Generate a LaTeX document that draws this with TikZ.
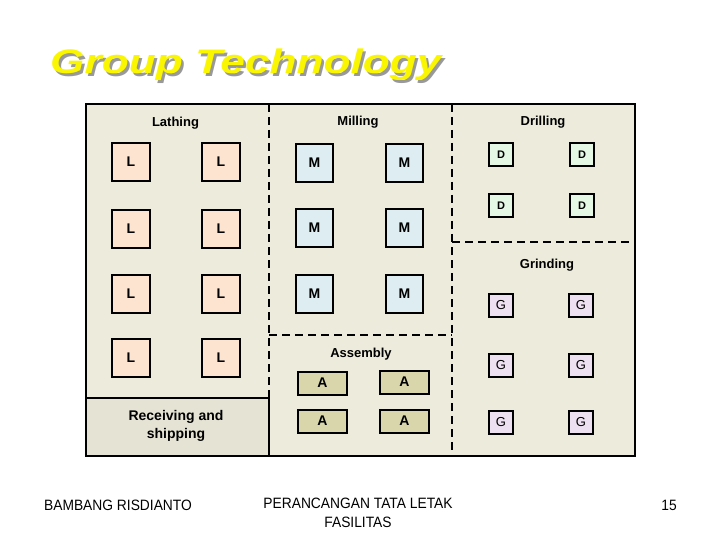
\documentclass[tikz,border=0pt]{standalone}
\usepackage{fontspec}
\setmainfont{Liberation Sans}
\newfontfamily\titlefont[FakeStretch=1.3]{Liberation Sans}
\newfontfamily\footfont[FakeStretch=0.92]{Liberation Sans}
\usetikzlibrary{positioning}
\definecolor{gtback}{RGB}{236,235,220}
\definecolor{gtrecv}{RGB}{228,227,212}
\definecolor{gtpeach}{RGB}{252,228,208}
\definecolor{gtblue}{RGB}{221,237,241}
\definecolor{gtgreen}{RGB}{229,248,229}
\definecolor{gtlilac}{RGB}{237,224,241}
\definecolor{gtkhaki}{RGB}{216,214,170}
\definecolor{gtyellow}{RGB}{250,245,0}

\begin{document}
\begin{tikzpicture}[x=1pt, y=-1pt,
  machine/.style={draw, line width=2pt, inner sep=0pt, font=\fontsize{14}{16}\selectfont\bfseries},
  lathe/.style={machine, fill=gtpeach, minimum width=38pt, minimum height=38pt},
  mill/.style={machine, fill=gtblue, minimum width=37pt, minimum height=38pt},
  drill/.style={machine, fill=gtgreen, minimum width=24pt, minimum height=23pt, font=\fontsize{11}{13}\selectfont\bfseries},
  grind/.style={machine, fill=gtlilac, minimum width=24pt, minimum height=23pt, font=\fontsize{13}{15}\selectfont},
  assy/.style={machine, fill=gtkhaki, minimum width=49pt, minimum height=23pt},
  area/.style={font=\fontsize{13}{15}\selectfont\bfseries},
  border/.style={line width=2.2pt, dash pattern=on 8pt off 5pt},
  footer/.style={font=\footfont\fontsize{15}{19}\selectfont, align=center}]
\useasboundingbox (0,0) rectangle (720,540);
% Title
\node[anchor=base west, inner sep=0pt, text=black!40, font=\titlefont\fontsize{34}{40}\selectfont\bfseries\itshape] at (52.5,76.5) {Group Technology};
\node[anchor=base west, inner sep=0pt, text=gtyellow, font=\titlefont\fontsize{34}{40}\selectfont\bfseries\itshape] (title) at (50,74) {Group Technology};
% Floor plan
\coordinate (nw) at (86,104);
\coordinate (se) at (635,456);
\fill[gtback] (nw) rectangle (se);
\draw[fill=gtrecv, line width=2.2pt] (86,398) rectangle (269,456);
\coordinate (v1top) at (269,104);
\coordinate (v1bot) at (269,398);
\coordinate (v2top) at (452,104);
\coordinate (v2bot) at (452,456);
\coordinate (h1w) at (269,335);
\coordinate (h1e) at (452,335);
\coordinate (h2w) at (452,242);
\coordinate (h2e) at (635,242);
\draw[border] (v1top) -- (v1bot);
\draw[border] (v2top) -- (v2bot);
\draw[border] (h1w) -- (h1e);
\draw[border] (h2w) -- (h2e);
\draw[line width=2.5pt] (nw) rectangle (se);
% Area labels
\node[area] (lathing) at (175.5,123) {Lathing};
\node[area] (milling) at (358,122) {Milling};
\node[area] (drilling) at (543,122) {Drilling};
\node[area] (grinding) at (547,265) {Grinding};
\node[area] (assembly) at (361,354) {Assembly};
\node[area, align=center, font=\fontsize{14}{18}\selectfont\bfseries] (recv) at (176,426) {Receiving and\\shipping};
% Lathes
\node[lathe] (l1) at (131,162) {L};
\node[lathe] (l2) at (221,162) {L};
\node[lathe] (l3) at (131,229) {L};
\node[lathe] (l4) at (221,229) {L};
\node[lathe] (l5) at (131,294) {L};
\node[lathe] (l6) at (221,294) {L};
\node[lathe] (l7) at (131,358) {L};
\node[lathe] (l8) at (221,358) {L};
% Mills
\node[mill] (m1) at (314.5,163) {M};
\node[mill] (m2) at (404.5,163) {M};
\node[mill] (m3) at (314.5,228) {M};
\node[mill] (m4) at (404.5,228) {M};
\node[mill] (m5) at (314.5,293.5) {M};
\node[mill] (m6) at (404.5,293.5) {M};
% Assembly
\node[assy] (a1) at (322.5,383) {A};
\node[assy] (a2) at (404.5,382) {A};
\node[assy] (a3) at (322.5,421) {A};
\node[assy] (a4) at (404.5,421) {A};
% Drills
\node[drill] (d1) at (501,155) {D};
\node[drill] (d2) at (582,155) {D};
\node[drill] (d3) at (501,206) {D};
\node[drill] (d4) at (582,206) {D};
% Grinders
\node[grind] (g1) at (501,305) {G};
\node[grind] (g2) at (581,305) {G};
\node[grind] (g3) at (501,365) {G};
\node[grind] (g4) at (581,365) {G};
\node[grind] (g5) at (501,422) {G};
\node[grind] (g6) at (581,422) {G};
% Footer
\node[footer] (author) at (118,505) {BAMBANG RISDIANTO};
\node[footer] (course) at (358,512.5) {PERANCANGAN TATA LETAK\\FASILITAS};
\node[footer] (page) at (669,505) {15};
\end{tikzpicture}
\end{document}
